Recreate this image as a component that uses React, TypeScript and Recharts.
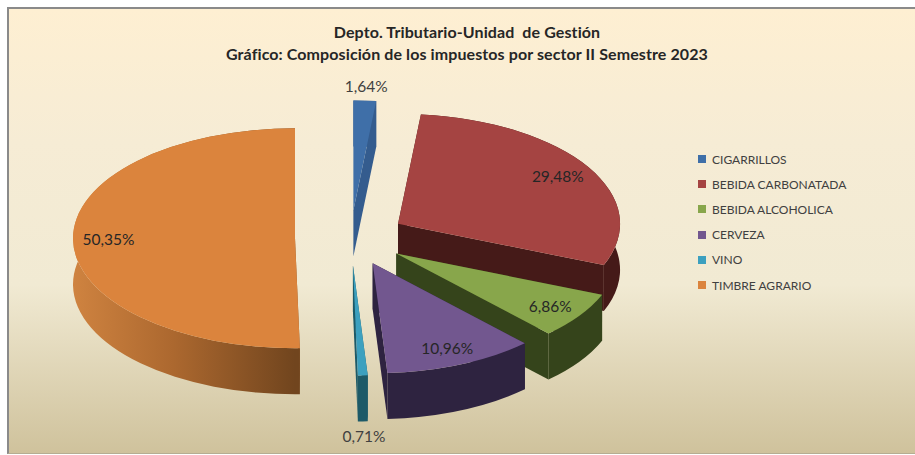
import React from "react";
import { PieChart, Pie, Legend } from "recharts";

const categories = ["CIGARRILLOS", "BEBIDA CARBONATADA", "BEBIDA ALCOHOLICA", "CERVEZA", "VINO", "TIMBRE AGRARIO"];
const shares = [1.64, 29.48, 6.86, 10.96, 0.71, 50.35];
const topColors = ["#3F6FA8", "#A54442", "#88A64B", "#72578F", "#3CA0BF", "#DB843D"];
const wallColors = ["#345C8E", "#451A18", "#35441B", "#2E2340", "#1D5A68", "#8E5626"];
const titleLines = ["Depto. Tributario-Unidad  de Gestión", "Gráfico: Composición de los impuestos por sector II Semestre 2023"];

const table = categories.map((name, i) => ({ name, value: shares[i], fill: topColors[i] }));

const CX = 350.5;
const CY = 238;
const RX = 222;
const TILT = 0.4955;
const DEPTH = 46;
const EXPLODE = 0.25;
const FONT = "Lato, 'Open Sans', sans-serif";

const project = (cx: number, cy: number, r: number, deg: number) => {
  const a = (deg * Math.PI) / 180;
  return { x: cx + r * Math.cos(a), y: cy - r * TILT * Math.sin(a) };
};

const Slice3D = (props: any) => {
  const { cx, cy, outerRadius: r, startAngle, endAngle, index } = props;
  const i = index ?? categories.indexOf(props.name);
  const mid = (startAngle + endAngle) / 2;
  const apex = project(cx, cy, r * EXPLODE, mid);
  const p1 = project(apex.x, apex.y, r, startAngle);
  const p2 = project(apex.x, apex.y, r, endAngle);
  const ry = r * TILT;
  const large = Math.abs(endAngle - startAngle) > 180 ? 1 : 0;
  const d = DEPTH;
  const top = `M${apex.x},${apex.y} L${p1.x},${p1.y} A${r},${ry} 0 ${large} 1 ${p2.x},${p2.y} Z`;
  const outer = `M${p1.x},${p1.y} A${r},${ry} 0 ${large} 1 ${p2.x},${p2.y} L${p2.x},${p2.y + d} A${r},${ry} 0 ${large} 0 ${p1.x},${p1.y + d} Z`;
  const side1 = `M${apex.x},${apex.y} L${p1.x},${p1.y} L${p1.x},${p1.y + d} L${apex.x},${apex.y + d} Z`;
  const side2 = `M${apex.x},${apex.y} L${p2.x},${p2.y} L${p2.x},${p2.y + d} L${apex.x},${apex.y + d} Z`;
  const isLast = i === categories.length - 1;
  const gid = `wall-${i}`;
  return (
    <g>
      {isLast && (
        <defs>
          <linearGradient id={gid} gradientUnits="userSpaceOnUse" x1={apex.x - r} x2={apex.x} y1="0" y2="0">
            <stop offset="0%" stopColor="#CF8340" />
            <stop offset="45%" stopColor="#AC682F" />
            <stop offset="100%" stopColor="#71451E" />
          </linearGradient>
        </defs>
      )}
      <path d={side1} fill={wallColors[i]} />
      <path d={side2} fill={wallColors[i]} />
      <path d={outer} fill={isLast ? `url(#${gid})` : wallColors[i]} />
      <path d={top} fill={topColors[i]} />
    </g>
  );
};

const SliceLabel = (props: any) => {
  const { cx, cy, outerRadius: r, midAngle, value } = props;
  const apex = project(cx, cy, r * EXPLODE, midAngle);
  const outside = value < 2;
  const pos = project(apex.x, apex.y, r * (outside ? 1.13 : 0.84), midAngle);
  const below = outside && pos.y > apex.y;
  return (
    <text
      x={pos.x}
      y={pos.y + (below ? DEPTH : 0)}
      textAnchor="middle"
      dominantBaseline="central"
      fontFamily={FONT}
      fontSize={15.5}
      fill={outside ? "#404040" : "#262626"}
    >
      {value.toFixed(2).replace(".", ",")}%
    </text>
  );
};

const LegendRows = () => (
  <div style={{ fontFamily: FONT, fontSize: 12, color: "#404040" }}>
    {table.map((row) => (
      <div key={row.name} style={{ height: 25.2, display: "flex", alignItems: "center", whiteSpace: "nowrap" }}>
        <span style={{ width: 8, height: 8, background: row.fill, marginRight: 6, display: "inline-block" }} />
        {row.name}
      </div>
    ))}
  </div>
);

const titleStyle: React.CSSProperties = { whiteSpace: "pre", letterSpacing: 0.1 };

export default function App() {
  return (
    <div style={{ position: "absolute", left: 0, top: 0, width: 915, height: 455, background: "#fff", overflow: "hidden" }}>
      <div
        style={{
          position: "absolute",
          left: 7,
          top: 7,
          width: 908,
          height: 447,
          boxSizing: "border-box",
          borderLeft: "2px solid #8a8a8a",
          borderTop: "2px solid #8a8a8a",
          borderBottom: "1px solid #b5ad92",
          background: "linear-gradient(180deg, #FEEFD2 0%, #F6ECD5 30%, #F1EAD3 62%, #CFC29C 100%)",
        }}
      />
      <div style={{ position: "absolute", left: 0, top: 0 }}>
        <PieChart width={915} height={455} margin={{ top: 0, right: 0, bottom: 0, left: 0 }}>
          <text x={467} y={31} textAnchor="middle" dominantBaseline="central" fontFamily={FONT} fontWeight={700} fontSize={16} fill="#262626" style={titleStyle}>
            {titleLines[0]}
          </text>
          <text x={467} y={53} textAnchor="middle" dominantBaseline="central" fontFamily={FONT} fontWeight={700} fontSize={16} fill="#262626" style={titleStyle}>
            {titleLines[1]}
          </text>
          <Pie
            data={table}
            dataKey="value"
            nameKey="name"
            cx={CX}
            cy={CY}
            innerRadius={0}
            outerRadius={RX}
            startAngle={90}
            endAngle={-270}
            stroke="none"
            shape={Slice3D}
            label={SliceLabel}
            labelLine={false}
            isAnimationActive={false}
          />
          <Legend content={LegendRows} layout="vertical" wrapperStyle={{ left: 698, top: 146.5, width: 200, bottom: "auto", right: "auto" }} />
        </PieChart>
      </div>
    </div>
  );
}
